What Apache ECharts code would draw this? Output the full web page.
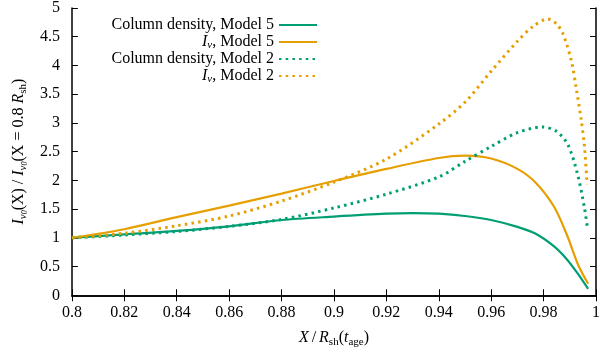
<!DOCTYPE html>
<html>
<head>
<meta charset="utf-8">
<script src="https://cdn.jsdelivr.net/npm/echarts@6/dist/echarts.min.js"></script>
<style>
html,body{margin:0;padding:0;background:#fff;}
#c{width:603px;height:355px;}
</style>
</head>
<body>
<div id="c"></div>
<script>
// ---- data ----
const xTickLabels = ['0.8','0.82','0.84','0.86','0.88','0.9','0.92','0.94','0.96','0.98','1'];
const yTickLabels = ['0','0.5','1','1.5','2','2.5','3','3.5','4','4.5','5'];

const cdM5X = [0.80,0.82,0.84,0.86,0.88,0.90,0.92,0.93,0.94,0.95,0.96,0.97,0.977,0.984,0.989,0.993,0.997];
const cdM5Y = [1.00,1.06,1.12,1.20,1.31,1.37,1.42,1.43,1.42,1.38,1.31,1.19,1.07,0.85,0.62,0.38,0.11];

const ivM5X = [0.80,0.82,0.84,0.86,0.88,0.90,0.92,0.94,0.95,0.96,0.97,0.977,0.984,0.989,0.993,0.997];
const ivM5Y = [1.00,1.15,1.36,1.56,1.77,1.99,2.20,2.39,2.43,2.38,2.20,1.96,1.54,1.04,0.55,0.20];

const cdM2X = [0.80,0.82,0.84,0.86,0.88,0.90,0.92,0.94,0.95,0.96,0.97,0.9796,0.985,0.9893,0.993,0.9956,0.9968];
const cdM2Y = [1.00,1.05,1.11,1.20,1.32,1.52,1.76,2.06,2.33,2.59,2.83,2.93,2.85,2.62,2.10,1.52,1.15];

const ivM2X = [0.80,0.82,0.84,0.86,0.88,0.90,0.92,0.94,0.95,0.96,0.97,0.976,0.9816,0.985,0.9875,0.9906,0.9925,0.9943,0.9956,0.9966];
const ivM2Y = [1.00,1.08,1.21,1.38,1.64,1.97,2.37,2.98,3.36,3.90,4.42,4.68,4.81,4.72,4.54,4.08,3.59,3.07,2.59,1.93];

const pairs = (xs, ys) => xs.map((x, i) => [x, ys[i]]);

// ---- chart ----
const GREEN = '#009e73';
const ORANGE = '#e69f00';
const FONT = 'Liberation Serif';
const chart = echarts.init(document.getElementById('c'), null, {renderer: 'canvas'});

const xMin = 0.8, xMax = 1.0, xInt = 0.02;
const yMin = 0, yMax = 5, yInt = 0.5;
const fmtX = v => '{t|' + (xTickLabels[Math.round((v - xMin) / xInt)] ?? '') + '}';
const fmtY = v => '{t|' + (yTickLabels[Math.round((v - yMin) / yInt)] ?? '') + '}';

const axisLine = {show: true, lineStyle: {color: '#000', width: 1.5}};
const tick = {show: true, inside: true, length: 6, lineStyle: {color: '#000', width: 1}};

const dotted = [2.5, 4.2];

const tickRich = {t: {fontSize: 16, fontFamily: FONT, color: '#000'}};

const subRich = {
  i: {fontStyle: 'italic', fontSize: 16, fontFamily: FONT, color: '#000', lineHeight: 20},
  n: {fontSize: 16, fontFamily: FONT, color: '#000', lineHeight: 20},
  s: {fontSize: 11, fontFamily: FONT, color: '#000', lineHeight: 20, padding: [9, 0, 0, 0]},
  v: {fontStyle: 'italic', fontSize: 11, fontFamily: FONT, color: '#000', lineHeight: 20, padding: [9, 0, 0, 0]},
  ss: {fontStyle: 'italic', fontSize: 8, fontFamily: FONT, color: '#000', lineHeight: 20, padding: [13, 0, 0, 0]}
};

const legRich = {
  i: {fontStyle: 'italic', fontSize: 16, fontFamily: FONT, color: '#000', lineHeight: 15.6},
  n: {fontSize: 16, fontFamily: FONT, color: '#000', lineHeight: 15.6},
  v: {fontStyle: 'italic', fontSize: 11, fontFamily: FONT, color: '#000', lineHeight: 15.6, padding: [7, 0, 0, 0]}
};

const option = {
  backgroundColor: '#fff',
  animation: false,
  textStyle: {fontFamily: FONT},
  grid: {left: 70.5, right: 1, top: 4.8, bottom: 59.7, containLabel: false},
  legend: {
    show: true,
    orient: 'vertical',
    align: 'right',
    right: 280,
    top: 12,
    itemWidth: 38,
    itemHeight: 10,
    itemGap: 0,
    itemStyle: {opacity: 0},
    textStyle: {fontSize: 16, fontFamily: FONT, color: '#000', lineHeight: 15.6, rich: legRich},
    formatter: function (name) {
      if (name.indexOf('Iv') === 0) {
        return '{i|I}{v|ν}{n|' + name.slice(2) + '}';
      }
      return '{n|' + name + '}';
    },
    data: ['Column density, Model 5', 'Iv, Model 5', 'Column density, Model 2', 'Iv, Model 2']
  },
  xAxis: [{
    type: 'value', min: xMin, max: xMax, interval: xInt, position: 'bottom',
    axisLine: axisLine, axisTick: tick, splitLine: {show: false},
    axisLabel: {formatter: fmtX, color: '#000', fontSize: 16, fontFamily: FONT, margin: 9, rich: tickRich},
    name: '{i|X} {n|/} {i|R}{s|sh}{n|(}{i|t}{s|age}{n|)}',
    nameLocation: 'middle', nameGap: 32,
    nameTextStyle: {rich: subRich}
  }, {
    type: 'value', min: xMin, max: xMax, interval: xInt, position: 'top',
    axisLine: axisLine, axisTick: tick, splitLine: {show: false},
    axisLabel: {show: false}
  }],
  yAxis: [{
    type: 'value', min: yMin, max: yMax, interval: yInt, position: 'left',
    axisLine: axisLine, axisTick: tick, splitLine: {show: false},
    axisLabel: {formatter: fmtY, color: '#000', fontSize: 16, fontFamily: FONT, margin: 12, rich: tickRich},
    name: '{i|I}{v|ν}{ss|0}{n|(X) / }{i|I}{v|ν}{ss|0}{n|(X = 0.8 }{i|R}{s|sh}{n|)}',
    nameLocation: 'middle', nameRotate: 90, nameGap: 40,
    nameTextStyle: {rich: subRich}
  }, {
    type: 'value', min: yMin, max: yMax, interval: yInt, position: 'right',
    axisLine: axisLine, axisTick: tick, splitLine: {show: false},
    axisLabel: {show: false}
  }],
  series: [
    {name: 'Column density, Model 5', type: 'line', data: pairs(cdM5X, cdM5Y), symbol: 'none', smooth: 0.3,
     lineStyle: {color: GREEN, width: 2.2}, itemStyle: {color: GREEN}},
    {name: 'Iv, Model 5', type: 'line', data: pairs(ivM5X, ivM5Y), symbol: 'none', smooth: 0.3,
     lineStyle: {color: ORANGE, width: 2.2}, itemStyle: {color: ORANGE}},
    {name: 'Column density, Model 2', type: 'line', data: pairs(cdM2X, cdM2Y), symbol: 'none', smooth: 0.3,
     lineStyle: {color: GREEN, width: 3, type: dotted, cap: 'butt'}, itemStyle: {color: GREEN}},
    {name: 'Iv, Model 2', type: 'line', data: pairs(ivM2X, ivM2Y), symbol: 'none', smooth: 0.3,
     lineStyle: {color: ORANGE, width: 3, type: dotted, cap: 'butt'}, itemStyle: {color: ORANGE}}
  ]
};
chart.setOption(option);
</script>
</body>
</html>
